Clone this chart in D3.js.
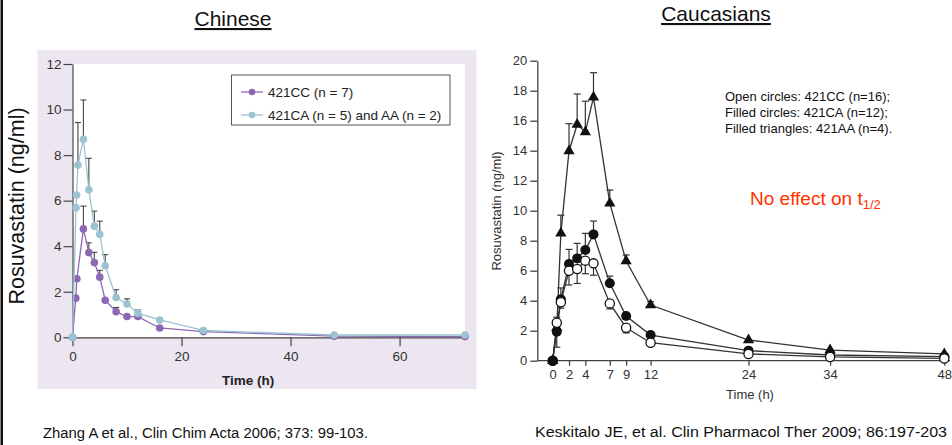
<!DOCTYPE html>
<html>
<head>
<meta charset="utf-8">
<script src="https://cdn.jsdelivr.net/npm/d3@7"></script>
<style>
  body { margin: 0; background: #fff; }
  svg { display: block; font-family: "Liberation Sans", Arial, sans-serif; }
</style>
</head>
<body>
<svg id="chart" width="952" height="445"></svg>
<script>
// ---- Chinese (Zhang et al.) ----
var timesCC = [0, 0.6, 0.8, 2, 3, 4, 5, 6, 8, 10, 12, 16, 24, 48, 72]
var concCC = [0, 1.72, 2.57, 4.76, 3.72, 3.28, 2.64, 1.63, 1.12, 0.91, 0.91, 0.41, 0.25, 0.05, 0.03]
var errCC = [null, null, null, 5.76, 4.15, 3.73, 2.94, null, 1.31, null, null, null, null, null, null]

var timesCA = [0, 0.65, 0.75, 1, 2, 3, 4, 5, 6, 8, 10, 12, 16, 24, 48, 72]
var concCA = [0, 5.69, 6.25, 7.56, 8.7, 6.48, 4.88, 4.52, 3.14, 1.75, 1.46, 1.06, 0.76, 0.3, 0.1, 0.1]
var errCA = [null, null, null, 9.43, 10.42, 7.86, 5.54, 5.1, 3.63, 2.09, 1.69, 1.2, null, null, null, null]

var leftLegend = ["421CC (n = 7)", "421CA (n = 5) and AA (n = 2)"]
var leftYTicks = [0, 2, 4, 6, 8, 10, 12]
var leftXTicks = [0, 20, 40, 60]

// ---- Caucasians (Keskitalo et al.) ----
var rTimes = [0, 0.5, 1, 2, 3, 4, 5, 7, 9, 12, 24, 34, 48]
var openCC = [0, 2.53, 3.9, 6.0, 6.11, 6.67, 6.49, 3.82, 2.2, 1.2, 0.45, 0.25, 0.15]
var openLow = [null, 0.9, 3.5, 5.05, 5.15, 5.8, 5.7, 3.45, 1.85, 1.0, null, null, null]
var filledCA = [0, 1.93, 4.09, 6.44, 6.82, 7.38, 8.42, 5.16, 2.98, 1.71, 0.67, 0.38, 0.27]
var filledHigh = [null, 2.9, 4.85, 7.42, 7.82, 8.49, 9.31, 5.64, 3.16, 1.9, null, null, null]
var triAA = [0, 2.2, 8.49, 13.98, 15.75, 15.24, 17.56, 10.49, 6.65, 3.71, 1.38, 0.71, 0.45]
var triHigh = [null, null, 9.7, 15.8, 17.78, 17.3, 19.2, 11.38, 7.05, 3.93, null, null, null]

var rightXTicks = [0, 2, 4, 7, 9, 12, 24, 34, 48]
var rightYTicks = [0, 2, 4, 6, 8, 10, 12, 14, 16, 18, 20]
var notes = ["Open circles: 421CC (n=16);", "Filled circles: 421CA (n=12);", "Filled triangles: 421AA (n=4)."]

var purple = "#8c68b3", teal = "#9cc3d2"

var svg = d3.select("#chart")

// left border line
svg.append("rect").attr("x", 0.5).attr("y", 0).attr("width", 2.5).attr("height", 445).attr("fill", "#111")

// titles
function title(txt, cx, y) {
  svg.append("text").attr("x", cx).attr("y", y)
    .attr("text-anchor", "middle").attr("font-size", 21).attr("fill", "#111")
    .attr("text-decoration", "underline").text(txt)
}
title("Chinese", 233, 26)
title("Caucasians", 716, 21)

// ================= left chart =================
var L = svg.append("g")
L.append("rect").attr("x", 37.5).attr("y", 50).attr("width", 439).attr("height", 339).attr("fill", "#ece6f1")

var x1 = d3.scaleLinear().domain([0, 72]).range([72.5, 465])
var y1 = d3.scaleLinear().domain([0, 12]).range([337.3, 64])

L.append("rect").attr("x", x1(0)).attr("y", y1(12))
  .attr("width", x1(72) - x1(0)).attr("height", y1(0) - y1(12)).attr("fill", "#fff")

var ax1 = L.append("g").attr("transform", "translate(" + x1(0) + ",0)")
  .call(d3.axisLeft(y1).tickValues(leftYTicks).tickSize(9).tickPadding(2).tickSizeOuter(0))
var bx1 = L.append("g").attr("transform", "translate(0," + y1(0) + ")")
  .call(d3.axisBottom(x1).tickValues(leftXTicks).tickSize(9).tickPadding(5).tickSizeOuter(0))
;[ax1, bx1].forEach(function(a) {
  a.selectAll("path,line").attr("stroke", "#444").attr("stroke-width", 1.2)
  a.selectAll("text").attr("font-size", 13.5).attr("fill", "#333").attr("font-family", "Liberation Sans, Arial, sans-serif")
})

L.append("text").attr("x", 222).attr("y", 385).attr("font-size", 13.5).attr("font-weight", "bold")
  .attr("fill", "#222").text("Time (h)")

svg.append("text").attr("transform", "translate(24,206) rotate(-90)")
  .attr("text-anchor", "middle").attr("font-size", 21.5).attr("fill", "#111").text("Rosuvastatin (ng/ml)")

function leftSeries(times, vals, errs, color) {
  var pts = times.map(function(t, i) { return { t: t, v: vals[i], e: errs[i] } })
  pts.filter(function(d) { return d.e != null }).forEach(function(d) {
    L.append("line").attr("x1", x1(d.t)).attr("x2", x1(d.t)).attr("y1", y1(d.v)).attr("y2", y1(d.e))
      .attr("stroke", "#444").attr("stroke-width", 1.1)
    L.append("line").attr("x1", x1(d.t) - 3).attr("x2", x1(d.t) + 3).attr("y1", y1(d.e)).attr("y2", y1(d.e))
      .attr("stroke", "#444").attr("stroke-width", 1.1)
  })
  L.append("path").datum(pts)
    .attr("d", d3.line().x(function(d) { return x1(d.t) }).y(function(d) { return y1(d.v) }))
    .attr("fill", "none").attr("stroke", color).attr("stroke-width", 1.3)
  L.append("g").selectAll("circle").data(pts).enter().append("circle")
    .attr("cx", function(d) { return x1(d.t) }).attr("cy", function(d) { return y1(d.v) })
    .attr("r", 3.8).attr("fill", color)
}
leftSeries(timesCC, concCC, errCC, purple)
leftSeries(timesCA, concCA, errCA, teal)

// legend
var lg = L.append("g")
lg.append("rect").attr("x", 231.5).attr("y", 75).attr("width", 218.5).attr("height", 50)
  .attr("fill", "#fff").attr("stroke", "#555").attr("stroke-width", 1)
leftLegend.forEach(function(s, i) {
  var yy = 92 + i * 23, c = i == 0 ? purple : teal
  lg.append("line").attr("x1", 241).attr("x2", 263).attr("y1", yy).attr("y2", yy).attr("stroke", c).attr("stroke-width", 1.3)
  lg.append("circle").attr("cx", 252).attr("cy", yy).attr("r", 3.3).attr("fill", c)
  lg.append("text").attr("x", 268).attr("y", yy + 5).attr("font-size", 13.5).attr("fill", "#222").text(s)
})

// ================= right chart =================
var R = svg.append("g")
var x2 = d3.scaleLinear().domain([0, 48]).range([552.7, 944.3])
var y2 = d3.scaleLinear().domain([0, 20]).range([360.7, 60.7])

var ax2 = R.append("g").attr("transform", "translate(537.3,0)")
  .call(d3.axisLeft(y2).tickValues(rightYTicks).tickSize(7).tickPadding(3).tickSizeOuter(0))
var bx2 = R.append("g").attr("transform", "translate(0," + y2(0) + ")")
  .call(d3.axisBottom(x2).tickValues(rightXTicks).tickSize(5).tickPadding(4).tickSizeOuter(0))
bx2.select(".domain").remove()
R.append("line").attr("x1", 537.3).attr("x2", 950).attr("y1", y2(0)).attr("y2", y2(0))
  .attr("stroke", "#444").attr("stroke-width", 1.3)
;[ax2, bx2].forEach(function(a) {
  a.selectAll("path,line").attr("stroke", "#444").attr("stroke-width", 1.3)
  a.selectAll("text").attr("font-size", 13).attr("fill", "#333").attr("font-family", "Liberation Sans, Arial, sans-serif")
})
R.append("text").attr("x", 750).attr("y", 399).attr("text-anchor", "middle").attr("font-size", 13)
  .attr("fill", "#333").text("Time (h)")
R.append("text").attr("transform", "translate(501,211) rotate(-90)").attr("text-anchor", "middle")
  .attr("font-size", 13).attr("fill", "#333").text("Rosuvastatin (ng/ml)")

function errBars(vals, ends) {
  rTimes.forEach(function(t, i) {
    if (ends[i] == null) return
    R.append("line").attr("x1", x2(t)).attr("x2", x2(t)).attr("y1", y2(vals[i])).attr("y2", y2(ends[i]))
      .attr("stroke", "#333").attr("stroke-width", 1.2)
    R.append("line").attr("x1", x2(t) - 3.5).attr("x2", x2(t) + 3.5).attr("y1", y2(ends[i])).attr("y2", y2(ends[i]))
      .attr("stroke", "#333").attr("stroke-width", 1.2)
  })
}
errBars(triAA, triHigh)
errBars(filledCA, filledHigh)
errBars(openCC, openLow)

var rline = d3.line().x(function(d, i) { return x2(rTimes[i]) }).y(function(d) { return y2(d) })
;[triAA, filledCA, openCC].forEach(function(s) {
  R.append("path").datum(s).attr("d", rline).attr("fill", "none").attr("stroke", "#333").attr("stroke-width", 1.3)
})

R.append("g").selectAll("path").data(triAA).enter().append("path")
  .attr("transform", function(d, i) { return "translate(" + x2(rTimes[i]) + "," + y2(d) + ")" })
  .attr("d", d3.symbol().type(d3.symbolTriangle).size(55)).attr("fill", "#111")
R.append("g").selectAll("circle").data(filledCA).enter().append("circle")
  .attr("cx", function(d, i) { return x2(rTimes[i]) }).attr("cy", function(d) { return y2(d) })
  .attr("r", 5).attr("fill", "#111")
R.append("g").selectAll("circle").data(openCC).enter().append("circle")
  .attr("cx", function(d, i) { return x2(rTimes[i]) }).attr("cy", function(d) { return y2(d) })
  .attr("r", 4.6).attr("fill", function(d, i) { return i == 0 ? "#111" : "#fff" }).attr("stroke", "#111").attr("stroke-width", 1.3)

notes.forEach(function(s, i) {
  svg.append("text").attr("x", 725).attr("y", 101 + i * 16).attr("font-size", 13).attr("fill", "#111").text(s)
})

var red = svg.append("text").attr("x", 750).attr("y", 205).attr("font-size", 19).attr("fill", "#ff3300")
red.append("tspan").text("No effect on t")
red.append("tspan").attr("font-size", 13).attr("dy", 4).text("1/2")

// citations (condensed face in the original)
svg.append("text").attr("x", 43).attr("y", 438).attr("font-size", 14)
  .attr("textLength", 325).attr("lengthAdjust", "spacingAndGlyphs").attr("fill", "#111")
  .text("Zhang A et al., Clin Chim Acta 2006; 373: 99-103.")
svg.append("text").attr("x", 535).attr("y", 437).attr("font-size", 14)
  .attr("textLength", 412).attr("lengthAdjust", "spacingAndGlyphs").attr("fill", "#111")
  .text("Keskitalo JE, et al. Clin Pharmacol Ther 2009; 86:197-203")
</script>
</body>
</html>
